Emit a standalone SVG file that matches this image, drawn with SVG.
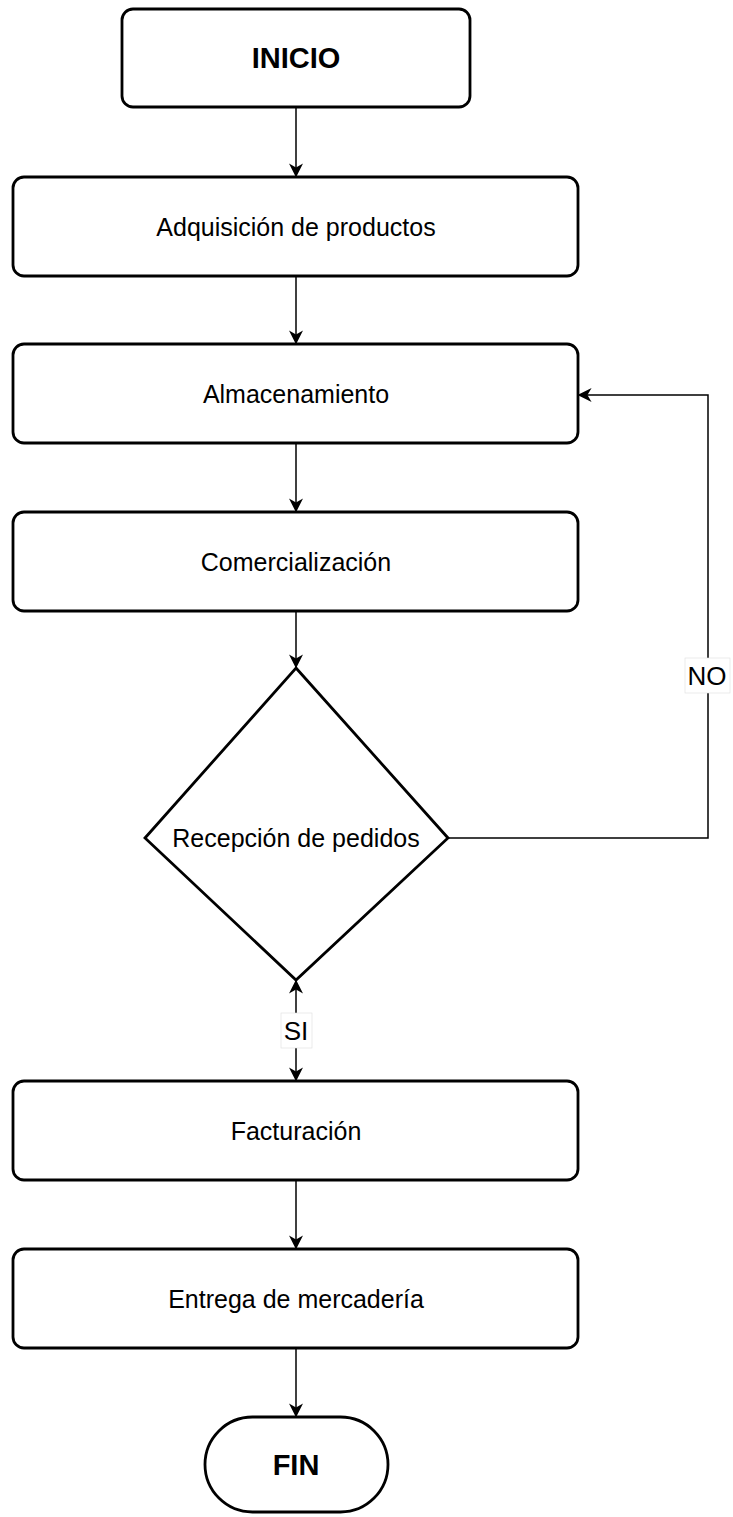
<svg xmlns="http://www.w3.org/2000/svg" width="733" height="1517" viewBox="0 0 733 1517">
<style>
.n{fill:#fff;stroke:#000;stroke-width:2.8}
.t{font-family:"Liberation Sans",Arial,sans-serif;font-size:25px;fill:#000;text-anchor:middle;dominant-baseline:central}
.b{font-weight:bold;font-size:29px}
.c{fill:none;stroke:#000;stroke-width:1.5}
.l{font-family:"Liberation Sans",Arial,sans-serif;font-size:26px;fill:#000;text-anchor:middle;dominant-baseline:central}
</style>
<defs>
<marker id="a" viewBox="0 0 10 10" refX="9" refY="5" markerWidth="14" markerHeight="14" markerUnits="userSpaceOnUse" orient="auto">
<path d="M0,0 L10,5 L0,10 L3,5 Z" fill="#000"/>
</marker>
</defs>
<rect width="733" height="1517" fill="#fff"/>
<g id="connectors">
<path class="c" d="M296,107 V176" marker-end="url(#a)"/>
<path class="c" d="M296,276 V343" marker-end="url(#a)"/>
<path class="c" d="M296,443 V511" marker-end="url(#a)"/>
<path class="c" d="M296,611 V667" marker-end="url(#a)"/>
<path class="c" d="M448,838 H708 V395 H579" marker-end="url(#a)"/>
<path class="c" d="M296,1015 V981" marker-end="url(#a)"/>
<path class="c" d="M296,1046 V1080" marker-end="url(#a)"/>
<path class="c" d="M296,1180 V1248" marker-end="url(#a)"/>
<path class="c" d="M296,1348 V1416" marker-end="url(#a)"/>
<rect x="685" y="658" width="45" height="35" fill="#fff" stroke="#ddd" stroke-width="0.6"/>
<text class="l" x="707" y="676">NO</text>
<rect x="281" y="1013" width="31" height="35" fill="#fff" stroke="#ddd" stroke-width="0.6"/>
<text class="l" x="296" y="1031">SI</text>
</g>
<g id="inicio">
<rect class="n" x="122" y="9" width="348" height="98" rx="11"/>
<text class="t b" x="296" y="58">INICIO</text>
</g>
<g id="adquisicion">
<rect class="n" x="13" y="177" width="565" height="99" rx="11"/>
<text class="t" x="296" y="227">Adquisición de productos</text>
</g>
<g id="almacenamiento">
<rect class="n" x="13" y="344" width="565" height="99" rx="11"/>
<text class="t" x="296" y="394">Almacenamiento</text>
</g>
<g id="comercializacion">
<rect class="n" x="13" y="512" width="565" height="99" rx="11"/>
<text class="t" x="296" y="562">Comercialización</text>
</g>
<g id="recepcion">
<path class="n" d="M296,668 L448,838 L296,980 L145,838 Z"/>
<text class="t" x="296" y="838">Recepción de pedidos</text>
</g>
<g id="facturacion">
<rect class="n" x="13" y="1081" width="565" height="99" rx="11"/>
<text class="t" x="296" y="1131">Facturación</text>
</g>
<g id="entrega">
<rect class="n" x="13" y="1249" width="565" height="99" rx="11"/>
<text class="t" x="296" y="1299">Entrega de mercadería</text>
</g>
<g id="fin">
<rect class="n" x="205" y="1417" width="183" height="95" rx="47.5"/>
<text class="t b" x="296" y="1465">FIN</text>
</g>
</svg>
